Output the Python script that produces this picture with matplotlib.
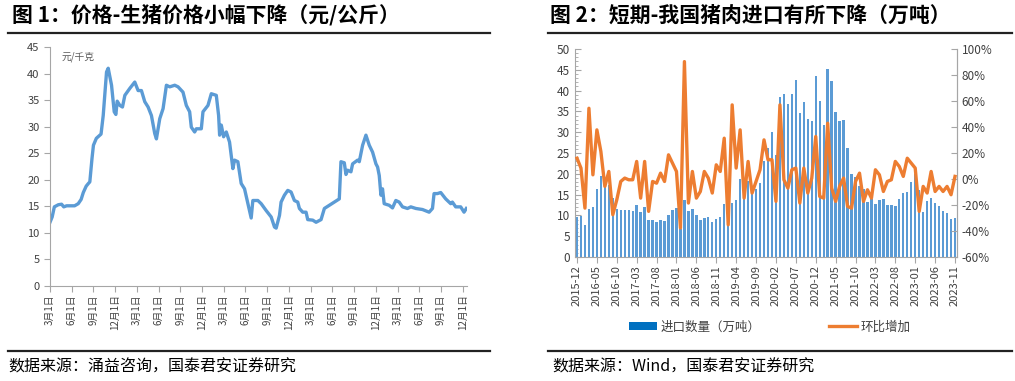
import matplotlib.pyplot as plt
from matplotlib.ticker import MultipleLocator, FuncFormatter
from matplotlib.lines import Line2D
from matplotlib.patches import Patch

plt.rcParams['font.family'] = ['Noto Sans CJK SC', 'DejaVu Sans']

# ---- left chart: pig price (months since 2019-03-01) ----
price_month = [0, 0.3, 0.6, 1.15, 1.6, 1.9, 2.3, 3.4, 3.9, 4.3, 4.6, 5.0, 5.3, 5.5,
               5.8, 6.0, 6.4, 6.8, 7.05, 7.35, 7.6, 7.81, 8.04, 8.5, 8.87, 9.1, 9.28,
               9.65, 10.01, 10.34, 11.02, 11.71, 12.17, 12.63, 13.09, 13.55, 14.01,
               14.47, 14.70, 15.16, 15.62, 16.08, 16.54, 17.23, 17.69, 18.37, 18.83,
               19.29, 19.52, 19.98, 20.21, 20.90, 21.13, 21.82, 22.28, 22.97, 23.29,
               23.43, 23.66, 23.98, 24.35, 24.80, 25.26, 25.49, 25.95, 26.41, 26.87,
               27.79, 28.02, 28.71, 29.17, 29.86, 30.55, 31.01, 31.24, 31.70, 31.92,
               32.38, 32.84, 33.30, 33.76, 34.22, 34.45, 34.91, 35.37, 35.60, 36.29,
               36.75, 37.44, 37.90, 38.59, 39.27, 39.96, 40.19, 40.65, 40.88, 41.11,
               41.57, 41.80, 42.49, 42.72, 43.18, 43.64, 44.10, 44.56, 45.02, 45.25,
               45.48, 45.71, 45.93, 46.16, 46.85, 47.31, 47.77, 48.23, 48.69, 49.38,
               49.84, 50.53, 51.45, 52.37, 52.83, 53.05, 53.51, 53.97, 54.66, 55.35,
               55.58, 56.04, 56.73, 57.19, 57.51]
price = [12.0, 13.0, 14.9, 15.3, 15.4, 14.9, 15.1, 15.1, 15.5, 16.3, 17.6, 18.8, 19.3, 19.6,
         24.0, 26.5, 27.8, 28.3, 28.6, 32.1, 36.5, 40.3, 41.0, 37.8, 32.8, 32.3, 34.8,
         34.0, 33.7, 35.9, 37.2, 38.4, 36.8, 36.8, 34.7, 33.7, 32.1,
         28.7, 27.7, 31.5, 33.4, 37.8, 37.5, 37.8, 37.5, 36.5, 34.0,
         32.8, 29.9, 29.0, 29.6, 29.6, 32.8, 34.0, 36.2, 35.9, 32.1,
         28.4, 30.3, 28.1, 29.0, 27.1, 22.1, 23.7, 23.4, 19.3, 18.3,
         12.8, 16.1, 16.1, 15.5, 14.2, 13.0, 11.1, 10.9, 13.3, 15.8,
         17.1, 18.0, 17.7, 16.1, 15.8, 14.6, 13.9, 13.9, 12.5, 12.4,
         12.0, 12.5, 14.6, 15.2, 15.8, 16.4, 23.4, 23.2, 21.0, 21.8,
         21.5, 23.0, 23.7, 23.4, 26.5, 28.4, 26.5, 25.2, 23.0, 22.4,
         20.8, 17.1, 18.3, 15.5, 15.2, 14.7, 16.1, 15.8, 14.9, 14.6,
         14.9, 14.6, 14.4, 13.9, 14.6, 17.4, 17.4, 17.6, 16.4, 15.5,
         15.8, 14.9, 14.9, 13.9, 14.6]
price_ticks = ['3月1日', '6月1日', '9月1日', '12月1日'] * 5

# ---- right chart: pork imports, 2015-12 .. 2023-11 ----
import_labels = ['2015-12', '2016-05', '2016-10', '2017-03', '2017-08', '2018-01',
                 '2018-06', '2018-11', '2019-04', '2019-09', '2020-02', '2020-07',
                 '2020-12', '2021-05', '2021-10', '2022-03', '2022-08', '2023-01',
                 '2023-06', '2023-11']
imports = [9.7, 9.9, 7.6, 11.5, 11.9, 16.3, 19.5, 16.9, 17.3, 14.1,
           11.5, 11.4, 11.4, 11.2, 11.1, 12.5, 10.7, 12.0, 9.0, 8.8,
           8.4, 8.9, 8.6, 10.2, 11.3, 11.7, 6.8, 13.7, 11.1, 11.5,
           10.0, 8.9, 9.4, 9.5, 8.4, 9.1, 9.6, 12.7, 8.0, 12.9,
           13.6, 18.8, 14.1, 18.3, 15.5, 16.3, 17.9, 23.1, 26.3, 30.0,
           24.5, 38.5, 39.1, 36.7, 39.3, 42.6, 34.6, 37.3, 33.1, 32.6,
           43.4, 37.5, 31.7, 45.2, 42.3, 34.9, 32.7, 33.0, 26.1, 20.0,
           19.2, 17.0, 16.3, 13.3, 14.0, 12.7, 13.7, 13.9, 12.5, 12.4,
           12.3, 14.0, 15.3, 15.6, 18.0, 20.0, 16.2, 10.8, 13.5, 14.3,
           12.9, 12.2, 11.1, 10.5, 9.2, 9.3]
mom_pct = [16.0, 8.4, -22.4, 54.4, 3.2, 37.8, 21.2, -5.7, 5.8, -27.5,
           -16.0, -1.9, 0.7, -0.6, -0.6, 13.5, -14.7, 13.5, -24.9, -1.9,
           -3.2, 4.5, -1.9, 18.6, 12.2, 5.8, -37.7, 90.3, -18.5, 5.8,
           -14.7, -9.6, 5.8, 0.7, -10.8, 10.9, 5.8, 31.4, -35.2, 57.0,
           8.4, 37.8, -14.7, 13.5, -10.8, -1.9, 7.1, 30.1, 14.8, 14.8,
           -17.2, 57.0, -0.6, -7.0, 7.1, 8.4, -18.5, 8.4, -10.8, 0.7,
           32.7, -13.4, -14.7, 42.9, -7.0, -17.2, -5.7, 0.7, -21.1, -22.4,
           -1.9, 4.5, -17.2, -8.3, -14.7, 7.1, 3.2, -9.6, -1.9, -0.6,
           13.5, 9.6, 2.0, 16.0, 12.2, 8.4, -24.9, -5.7, -10.8, 5.8,
           -9.6, -5.7, -9.6, -5.7, -12.1, 2.0]

BLUE = '#5B9BD5'
ORANGE = '#ED7D31'
TXT = '#404040'
AXC = '#A6A6A6'

fig = plt.figure(figsize=(10.15, 3.81), dpi=100)

# titles, rules and source notes
fig.text(12 / 1015, 1 - 15 / 381, '图 1：价格-生猪价格小幅下降（元/公斤）', fontsize=15,
         fontweight='bold', va='center', ha='left', color='black')
fig.text(550 / 1015, 1 - 15 / 381, '图 2：短期-我国猪肉进口有所下降（万吨）', fontsize=15,
         fontweight='bold', va='center', ha='left', color='black')
for x0, x1 in [(8, 490), (548, 1012)]:
    fig.add_artist(Line2D([x0 / 1015, x1 / 1015], [1 - 33 / 381] * 2, color='#222222', lw=1.6))
    fig.add_artist(Line2D([x0 / 1015, x1 / 1015], [1 - 351 / 381] * 2, color='#222222', lw=1.6))
fig.text(8 / 1015, 1 - 367 / 381, '数据来源：涌益咨询，国泰君安证券研究', fontsize=11.5,
         va='center', ha='left', color='black')
fig.text(552 / 1015, 1 - 367 / 381, '数据来源：Wind，国泰君安证券研究', fontsize=11.5,
         va='center', ha='left', color='black')

# ---- left axes ----
ax1 = fig.add_axes([50 / 1015, 1 - 286 / 381, 417 / 1015, 239 / 381])
ax1.plot(price_month, price, color=BLUE, lw=2.4, solid_joinstyle='round')
ax1.set_xlim(0, 57.6)
ax1.set_ylim(0, 45)
ax1.yaxis.set_major_locator(MultipleLocator(5))
ax1.set_xticks(range(0, 60, 3))
ax1.set_xticklabels(price_ticks, rotation=90, fontsize=7, color=TXT)
ax1.tick_params(axis='y', labelsize=8, colors=TXT, length=4, direction='out', color=AXC)
ax1.tick_params(axis='x', length=4, direction='out', color=AXC, pad=2)
for s in ['top', 'right']:
    ax1.spines[s].set_visible(False)
for s in ['left', 'bottom']:
    ax1.spines[s].set_color(AXC)
ax1.text(12 / 417, 1 - 5 / 239, '元/千克', transform=ax1.transAxes, fontsize=7,
         color='#595959', va='top', ha='left')

# ---- right axes ----
ax2 = fig.add_axes([575 / 1015, 1 - 257 / 381, 382 / 1015, 208 / 381])
idx = list(range(len(imports)))
ax2.bar(idx, imports, width=0.6, color=BLUE, zorder=2)
ax2.set_xlim(-0.5, 95.5)
ax2.set_ylim(0, 50)
ax2.yaxis.set_major_locator(MultipleLocator(5))
ax2.yaxis.set_minor_locator(MultipleLocator(1))
ax2.set_xticks(range(0, 96, 5))
ax2.set_xticklabels(import_labels, rotation=90, fontsize=8, color=TXT)
ax2.tick_params(axis='y', which='major', labelsize=8.5, colors=TXT, length=4,
                direction='in', color=AXC)
ax2.tick_params(axis='y', which='minor', length=2.5, direction='in', color=AXC)
ax2.tick_params(axis='x', length=4, direction='out', color=AXC, pad=2)
ax2.spines['top'].set_visible(False)
for s in ['left', 'bottom', 'right']:
    ax2.spines[s].set_color(AXC)

ax3 = ax2.twinx()
ax3.plot(idx, mom_pct, color=ORANGE, lw=2.4, zorder=3, solid_joinstyle='round')
ax3.set_ylim(-60, 100)
ax3.yaxis.set_major_locator(MultipleLocator(20))
ax3.yaxis.set_major_formatter(FuncFormatter(lambda v, p: f'{v:.0f}%'))
ax3.tick_params(axis='y', labelsize=8.5, colors=TXT, length=4, direction='in', color=AXC)
ax3.spines['top'].set_visible(False)
ax3.spines['right'].set_color(AXC)
ax3.spines['left'].set_visible(False)
ax3.spines['bottom'].set_visible(False)

handles = [Patch(facecolor='#0070C0', edgecolor='none'),
           Line2D([0], [0], color=ORANGE, lw=2.4)]
fig.legend(handles, ['进口数量（万吨）', '环比增加'], loc='center', ncol=2,
           bbox_to_anchor=(770 / 1015, 1 - 327 / 381), frameon=False, fontsize=9,
           handlelength=2.2, handleheight=0.6, columnspacing=5.5, handletextpad=0.3,
           labelcolor=TXT)

fig.savefig('out.png', dpi=100)
